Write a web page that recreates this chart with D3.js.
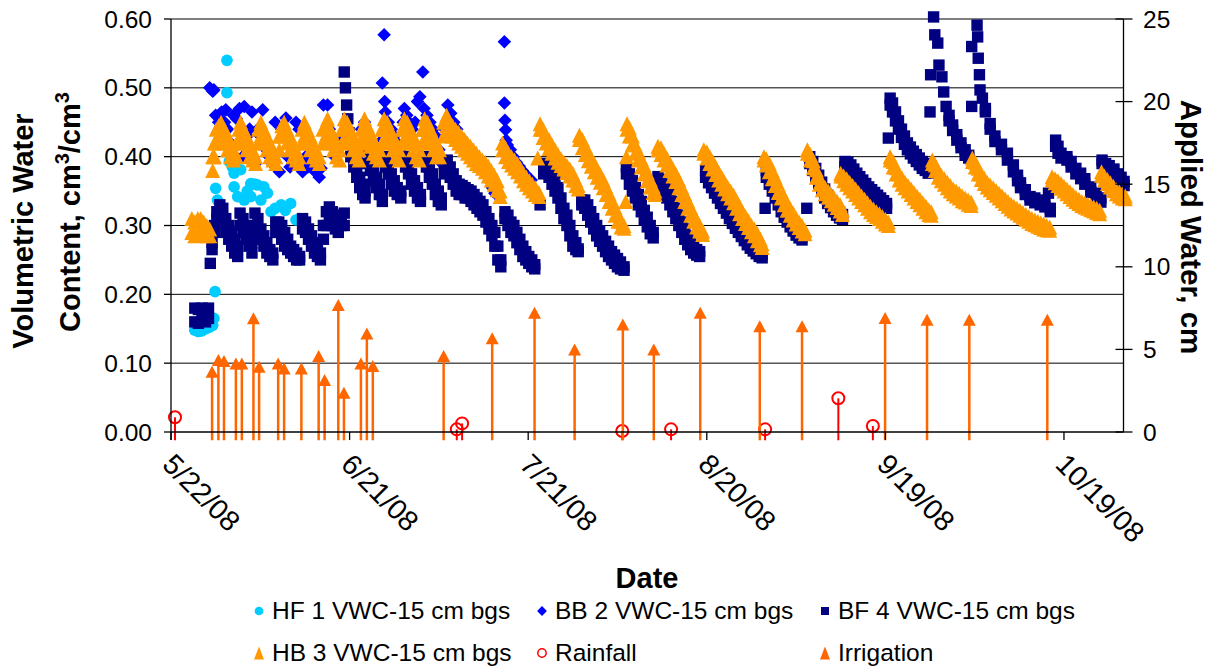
<!DOCTYPE html>
<html>
<head>
<meta charset="utf-8">
<script src="https://cdn.jsdelivr.net/npm/d3@7"></script>
<style>
  body { margin: 0; background: #fff; }
  svg { display: block; font-family: 'Liberation Sans', Arial, sans-serif; }
</style>
</head>
<body>
<svg width="1212" height="670"></svg>
<script>
// ---- data: day offset from 5/22/08 ----
const startDate = Date.UTC(2008, 4, 22);
const dateTicks = ['5/22/08', '6/21/08', '7/21/08', '8/20/08', '9/19/08', '10/19/08'];
const leftTicks = [0, 0.1, 0.2, 0.3, 0.4, 0.5, 0.6];
const rightTicks = [0, 5, 10, 15, 20, 25];

// [day, vwc] single readings
const hf1 = [[4,.148],[4.6,.146],[5.2,.147],[5.8,.15],[6.4,.152],[7,.155],[7.2,.165],[7.4,.204],[7.5,.354],[7.8,.337],
  [9.4,.54],[9.4,.493],[9.8,.393],[10.3,.385],[10.6,.376],[10.6,.356],[11.2,.342],[11.7,.381],[12.3,.337],[12.8,.35],
  [13.4,.361],[13.4,.342],[14,.36],[14.5,.359],[15.1,.337],[15.6,.356],[16.2,.347],[16.8,.32],[17.5,.325],[18.5,.33],
  [19.2,.322],[20.1,.332],[21,.308],[21.6,.31]];

const bb2 = [[6.5,.50],[7,.495],[7.2,.497],[7.5,.46],[8,.45],[8.5,.465],[9,.45],[9.2,.468],[9.5,.44],[10,.42],[10.5,.46],
  [11,.455],[11.5,.47],[12,.40],[12.3,.473],[12.8,.43],[13.2,.44],[13.6,.465],[14.2,.39],[14.6,.44],[15,.43],[15.4,.468],
  [16,.41],[16.5,.40],[17,.39],[17.5,.45],[18.2,.378],[18.6,.44],[19.3,.456],[19.6,.40],[20,.385],[20.5,.39],[21,.45],
  [21.5,.44],[22.1,.378],[22.6,.40],[23,.385],[23.5,.39],[24,.38],[24.9,.37],[25.2,.383],[25.6,.475],[26.3,.475],[26.6,.44],
  [27,.43],[27.5,.40],[28,.41],[28.5,.42],[29,.43],[29.5,.44],[30,.42],[30.5,.41],[31,.40],[31.5,.395],[32,.44],[32.5,.45],
  [33,.43],[33.5,.42],[34,.41],[34.5,.40],[35,.42],[35.5,.507],[35.8,.577],[35.9,.48],[36,.465],[36.5,.45],[37,.44],
  [37.5,.43],[38,.42],[38.5,.41],[39,.45],[39.2,.47],[39.6,.46],[40,.45],[40.5,.44],[41,.45],[41.4,.48],[41.8,.487],
  [42.3,.523],[42.5,.47],[43,.46],[43.5,.45],[44,.44],[44.5,.43],[45,.41],[45.5,.39],[46,.44],[46.5,.475],[47,.463],
  [47.5,.45],[48,.44],[48.5,.43],[49,.42],[49.5,.415],[50,.41],[50.5,.405],[51,.40],[51.5,.395],[52,.39],[52.5,.385],
  [53,.375],[53.5,.365],[54,.355],[54.4,.347],[56,.567],[56,.478],[56.1,.453],[56.2,.439],[56.3,.424],[56.5,.417],
  [57,.41],[57.5,.40],[58,.392],[58.5,.386],[59,.38],[59.5,.375],[60,.37],[60.5,.366]];

// [day, low, high] range of readings
const bf4 = [[4,.16,.18],[4.6,.158,.178],[5.2,.162,.18],[5.8,.16,.178],[6.3,.165,.18],[6.6,.245,.245],[6.9,.265,.275],
  [7.3,.29,.30],[7.7,.31,.32],[8.2,.31,.33],[8.7,.305,.325],[9.2,.29,.31],[9.7,.28,.30],[10.2,.27,.29],[10.7,.26,.28],
  [11.2,.255,.27],[11.6,.30,.318],[12.1,.29,.31],[12.6,.28,.30],[13.1,.27,.29],[13.6,.26,.275],[14.1,.30,.318],[14.6,.29,.31],
  [15.1,.28,.295],[15.6,.27,.285],[16.1,.26,.275],[16.6,.255,.265],[17.1,.25,.26],[17.6,.29,.305],[18.1,.29,.305],
  [18.6,.28,.30],[19.1,.27,.29],[19.6,.265,.28],[20.1,.26,.27],[20.6,.255,.265],[21.1,.25,.26],[21.6,.25,.255],
  [22.1,.295,.31],[22.6,.29,.305],[23.1,.28,.295],[23.6,.27,.285],[24.1,.26,.275],[24.6,.255,.265],[25.1,.25,.26],
  [25.6,.28,.30],[26.1,.30,.32],[26.6,.31,.327],[27.1,.30,.32],[27.6,.295,.31],[28.1,.29,.305],[28.6,.30,.315],[29.1,.30,.318],
  [29.1,.523,.523],[29.3,.50,.50],[29.5,.475,.475],[29.7,.455,.455],[29.9,.435,.435],[30.2,.40,.42],[30.7,.385,.40],
  [31.2,.37,.385],[31.7,.355,.37],[32.2,.345,.36],[32.6,.34,.35],[33,.39,.41],[33.5,.38,.395],[34,.365,.38],[34.5,.355,.37],
  [35,.345,.36],[35.5,.335,.345],[36,.385,.40],[36.5,.375,.39],[37,.36,.375],[37.5,.35,.365],[38,.345,.355],[38.6,.34,.35],
  [39.4,.385,.40],[39.9,.375,.39],[40.4,.36,.375],[40.9,.35,.365],[41.4,.34,.355],[41.9,.335,.345],[42.9,.385,.40],
  [43.4,.37,.385],[43.9,.36,.375],[44.4,.345,.36],[44.9,.335,.35],[45.4,.33,.34],[45.9,.375,.39],[46.4,.38,.395],
  [46.9,.37,.385],[47.4,.36,.375],[47.9,.35,.365],[48.4,.345,.36],[48.9,.345,.358],[49.4,.34,.355],[49.9,.34,.352],
  [50.4,.335,.35],[50.9,.33,.345],[51.4,.325,.34],[51.9,.32,.335],[52.4,.315,.33],[52.9,.305,.32],[53.4,.295,.31],
  [53.9,.285,.30],[54.4,.27,.29],[54.9,.25,.27],[55.4,.24,.25],[56.1,.31,.32],[56.6,.30,.315],[57.1,.29,.305],
  [57.6,.285,.30],[58.1,.275,.29],[58.6,.265,.28],[59.1,.255,.27],[59.6,.25,.262],[60.1,.245,.255],[60.6,.24,.25],
  [61.1,.237,.243],[62,.33,.33],[62.6,.375,.39],[63,.38,.39],[63.5,.37,.385],[64,.36,.375],[64.5,.35,.365],[65,.34,.355],
  [65.5,.325,.34],[66,.31,.325],[66.5,.30,.315],[67,.285,.30],[67.5,.27,.285],[68,.265,.275],[68.4,.262,.266],
  [69,.33,.337],[69.5,.325,.337],[70,.315,.33],[70.5,.305,.32],[71,.295,.31],[71.5,.285,.30],[72,.277,.292],[72.5,.27,.285],
  [73,.262,.277],[73.5,.255,.27],[74,.25,.262],[74.5,.245,.257],[75,.24,.252],[75.5,.237,.247],[76.1,.235,.24],
  [76.5,.375,.385],[77,.36,.375],[77.5,.35,.365],[78,.34,.355],[78.5,.33,.345],[79,.32,.335],[79.5,.308,.322],
  [80,.298,.312],[80.5,.288,.30],[81,.282,.29],[81.8,.362,.371],[82.3,.355,.367],[82.8,.347,.36],[83.3,.34,.353],
  [83.8,.33,.345],[84.3,.32,.335],[84.8,.31,.325],[85.3,.30,.315],[85.8,.29,.305],[86.3,.28,.295],[86.8,.272,.285],
  [87.3,.265,.277],[87.8,.26,.27],[88.3,.257,.265],[88.8,.255,.262],[89.8,.37,.38],[90.3,.362,.375],[90.8,.355,.368],
  [91.3,.347,.36],[91.8,.34,.353],[92.3,.332,.345],[92.8,.325,.338],[93.3,.318,.33],[93.8,.31,.323],[94.3,.303,.316],
  [94.8,.296,.309],[95.3,.29,.302],[95.8,.284,.295],[96.3,.278,.29],[96.8,.272,.284],[97.3,.267,.278],[97.8,.263,.272],
  [98.3,.259,.268],[98.8,.255,.264],[99.3,.253,.258],[99.8,.325,.325],[100,.37,.38],[100.5,.36,.373],[101,.35,.363],
  [101.5,.34,.353],[102,.33,.343],[102.5,.32,.333],[103,.312,.324],[103.5,.305,.316],[104,.298,.309],[104.5,.292,.302],
  [105,.286,.296],[105.5,.282,.29],[106,.279,.284],[106.8,.325,.325],[107.3,.39,.40],[107.8,.38,.393],[108.3,.37,.383],
  [108.8,.36,.373],[109.3,.35,.363],[109.8,.34,.353],[110.3,.332,.344],[110.8,.326,.337],[111.3,.32,.331],[111.8,.315,.326],
  [112.3,.311,.32],[112.8,.309,.316],[113.2,.385,.393],[113.7,.38,.392],[114.2,.375,.388],[114.7,.368,.382],
  [115.2,.362,.376],[115.7,.357,.371],[116.2,.352,.366],[116.7,.347,.361],[117.2,.343,.356],[117.7,.339,.352],
  [118.2,.335,.348],[118.7,.332,.344],[119.2,.329,.34],[119.7,.326,.336],[120.2,.325,.332],[120.5,.427,.427],
  [120.8,.475,.485],[121.2,.465,.478],[121.7,.452,.465],[122.2,.44,.452],[122.7,.428,.44],[123.2,.418,.43],[123.7,.41,.42],
  [124.2,.404,.414],[124.7,.398,.408],[125.2,.393,.403],[125.7,.388,.398],[126.2,.383,.393],[126.7,.38,.39],[127.2,.376,.386],
  [127.5,.465,.465],[127.6,.519,.519],[128.1,.603,.603],[128.3,.577,.577],[128.8,.565,.565],[129,.533,.533],[129.5,.516,.516],
  [129.8,.494,.494],[130.2,.473,.473],[130.7,.452,.46],[131.3,.438,.446],[132,.424,.432],[132.7,.413,.42],[133.4,.402,.41],
  [134,.398,.402],[134.5,.56,.56],[134.5,.473,.473],[135.4,.591,.591],[135.5,.574,.574],[135.6,.543,.543],[135.8,.519,.519],
  [135.9,.497,.497],[136.3,.485,.485],[136.8,.465,.47],[137.6,.44,.448],[138.4,.422,.43],[139.5,.41,.418],[140.5,.395,.405],
  [141.5,.378,.388],[142.2,.365,.373],[142.7,.355,.362],[143.5,.345,.352],[144.3,.337,.342],[145.1,.333,.34],[146,.33,.337],
  [146.8,.327,.335],[147.7,.32,.325],[147.4,.347,.347],[148.6,.415,.424],[149,.405,.415],[149.5,.398,.405],[150.5,.395,.40],
  [151.2,.385,.393],[152,.375,.383],[152.8,.368,.376],[153.5,.36,.368],[154.5,.348,.356],[155.4,.34,.347],[156.2,.334,.34],
  [156.4,.39,.395],[157,.385,.39],[157.6,.38,.387],[158.4,.374,.382],[159,.368,.375],[159.6,.362,.37],[160.1,.358,.364]];

const hb3 = [[3.5,.29,.31],[4,.285,.305],[4.5,.29,.31],[5,.29,.31],[5.5,.29,.305],[6,.285,.30],[6.5,.285,.295],
  [7,.38,.40],[7.3,.40,.42],[7.6,.42,.44],[8,.43,.445],[8.4,.43,.45],[9,.42,.44],[9.5,.41,.43],[10,.40,.42],[10.5,.395,.41],
  [11,.40,.42],[11.4,.42,.44],[11.7,.43,.45],[12.2,.42,.44],[12.7,.41,.43],[13.2,.40,.42],[13.7,.395,.41],[14.2,.39,.40],
  [14.7,.42,.44],[15.1,.43,.45],[15.6,.42,.44],[16.1,.41,.43],[16.6,.40,.42],[17.1,.395,.41],[17.6,.39,.40],[18.2,.41,.43],
  [18.6,.43,.445],[19,.43,.45],[19.5,.42,.44],[20,.41,.43],[20.5,.40,.42],[21,.395,.41],[21.5,.39,.40],[22,.42,.44],
  [22.4,.43,.45],[22.9,.42,.44],[23.4,.41,.43],[23.9,.40,.42],[24.4,.395,.41],[24.9,.39,.40],[25.5,.42,.44],[26,.43,.445],
  [26.3,.435,.455],[26.8,.42,.44],[27.3,.41,.43],[27.8,.40,.42],[28.3,.395,.41],[28.7,.42,.44],[29.1,.44,.455],[29.6,.43,.45],
  [30.1,.42,.44],[30.6,.41,.43],[31.1,.40,.42],[31.6,.395,.41],[32,.42,.44],[32.5,.435,.455],[33,.425,.445],[33.5,.415,.435],
  [34,.405,.425],[34.5,.40,.415],[35,.395,.41],[35.4,.42,.44],[35.8,.44,.455],[36.3,.43,.45],[36.8,.42,.44],[37.3,.41,.43],
  [37.8,.40,.42],[38.3,.395,.41],[38.8,.42,.44],[39.2,.44,.455],[39.7,.43,.45],[40.2,.42,.44],[40.7,.41,.43],[41.2,.40,.42],
  [41.7,.395,.41],[42.2,.42,.44],[42.6,.44,.455],[43.1,.43,.45],[43.6,.42,.44],[44.1,.41,.43],[44.6,.40,.42],[45.1,.40,.41],
  [45.8,.43,.45],[46.3,.445,.46],[46.8,.435,.45],[47.3,.43,.445],[47.8,.425,.44],[48.3,.42,.435],[48.8,.415,.43],
  [49.3,.41,.425],[49.8,.405,.42],[50.3,.40,.415],[50.8,.395,.41],[51.3,.39,.405],[51.8,.387,.40],[52.3,.383,.395],
  [52.8,.378,.392],[53.3,.372,.386],[53.8,.366,.38],[54.3,.36,.373],[54.8,.352,.365],[55.3,.342,.35],[55.7,.41,.42],
  [56.2,.40,.413],[56.7,.393,.405],[57.2,.388,.40],[57.7,.383,.395],[58.2,.378,.39],[58.7,.372,.383],[59.2,.365,.376],
  [59.7,.36,.37],[60.2,.355,.365],[60.7,.35,.36],[61.2,.345,.355],[61.6,.398,.398],[61.8,.342,.348],[62,.44,.448],
  [62.5,.428,.44],[63,.42,.43],[63.5,.412,.425],[64,.405,.417],[64.5,.398,.41],[65,.392,.403],[65.5,.387,.397],
  [66,.382,.392],[66.5,.377,.387],[67,.372,.382],[67.5,.366,.376],[68,.358,.366],[68.4,.353,.358],[68.6,.425,.431],
  [69.1,.413,.425],[69.6,.403,.415],[70.1,.394,.406],[70.6,.386,.397],[71.1,.378,.39],[71.6,.37,.381],[72.1,.363,.374],
  [72.6,.355,.366],[73.1,.345,.356],[73.6,.335,.346],[74.1,.325,.336],[74.6,.315,.326],[75.1,.306,.316],[75.6,.298,.306],
  [76.1,.296,.30],[76.4,.335,.335],[76.5,.40,.40],[76.6,.44,.448],[77,.43,.442],[77.5,.418,.43],[78,.405,.417],
  [78.5,.395,.407],[79,.385,.397],[79.5,.375,.387],[80,.365,.377],[80.5,.356,.367],[81,.348,.357],[81.3,.345,.35],
  [81.8,.41,.415],[82.3,.403,.413],[82.8,.395,.405],[83.3,.388,.398],[83.8,.38,.39],[84.3,.372,.382],[84.8,.364,.375],
  [85.3,.355,.366],[85.8,.345,.356],[86.3,.335,.346],[86.8,.325,.336],[87.3,.315,.326],[87.8,.306,.316],[88.3,.298,.308],
  [88.8,.292,.30],[89.3,.287,.292],[89.5,.405,.41],[90,.398,.407],[90.5,.39,.40],[91,.382,.393],[91.5,.374,.385],
  [92,.366,.377],[92.5,.36,.37],[93,.353,.363],[93.5,.346,.356],[94,.34,.35],[94.5,.333,.344],[95,.325,.336],[95.5,.317,.328],
  [96,.31,.32],[96.5,.303,.313],[97,.297,.307],[97.5,.291,.30],[98,.285,.295],[98.5,.278,.288],[99,.272,.28],[99.3,.268,.273],
  [99.6,.395,.40],[100,.388,.397],[100.5,.378,.39],[101,.368,.38],[101.5,.358,.37],[102,.348,.36],[102.5,.34,.35],
  [103,.33,.341],[103.5,.322,.332],[104,.315,.325],[104.5,.308,.318],[105,.302,.311],[105.5,.297,.305],[106,.292,.30],
  [106.5,.288,.293],[106.9,.405,.41],[107.4,.395,.403],[107.9,.384,.394],[108.4,.37,.381],[108.9,.36,.37],[109.4,.352,.361],
  [109.9,.346,.355],[110.4,.341,.35],[110.9,.336,.345],[111.4,.331,.34],[111.9,.326,.335],[112.4,.321,.33],[112.8,.316,.322],
  [112.5,.372,.376],[113,.365,.372],[113.5,.36,.368],[114,.355,.363],[114.5,.35,.358],[115,.345,.353],[115.5,.34,.348],
  [116,.335,.343],[116.5,.33,.338],[117,.325,.333],[117.5,.32,.328],[118,.316,.324],[118.5,.313,.32],[119,.31,.317],
  [119.5,.306,.313],[120,.302,.309],[120.5,.30,.305],[120.8,.395,.40],[121.3,.385,.393],[121.8,.375,.384],[122.3,.366,.375],
  [122.8,.36,.369],[123.3,.355,.363],[123.8,.35,.358],[124.3,.345,.353],[124.8,.34,.348],[125.3,.335,.343],[125.8,.33,.338],
  [126.3,.325,.333],[126.8,.32,.328],[127.3,.316,.323],[127.7,.315,.32],[127.9,.39,.395],[128.4,.38,.388],[128.9,.37,.379],
  [129.4,.365,.373],[129.9,.36,.368],[130.4,.355,.363],[130.9,.35,.358],[131.4,.346,.353],[131.9,.343,.35],[132.4,.34,.347],
  [132.9,.336,.343],[133.4,.334,.34],[133.9,.331,.337],[134.4,.329,.334],[134.6,.393,.398],[135.1,.385,.392],
  [135.6,.375,.383],[136.1,.367,.375],[136.6,.361,.369],[137.1,.356,.363],[137.6,.352,.359],[138.1,.348,.355],
  [138.6,.344,.351],[139.1,.34,.347],[139.6,.336,.343],[140.1,.332,.339],[140.6,.328,.335],[141.1,.324,.331],
  [141.6,.321,.328],[142.1,.318,.325],[142.6,.315,.322],[143.1,.312,.319],[143.6,.309,.316],[144.1,.306,.313],
  [144.6,.303,.31],[145.1,.301,.308],[145.6,.299,.306],[146.1,.297,.304],[146.6,.295,.302],[147.1,.294,.30],[147.6,.293,.298],
  [148,.366,.371],[148.5,.362,.368],[149,.358,.365],[149.5,.354,.361],[150,.35,.357],[150.5,.346,.353],[151,.342,.349],
  [151.5,.338,.345],[152,.335,.341],[152.5,.332,.338],[153,.329,.335],[153.5,.327,.333],[154,.325,.331],[154.5,.323,.329],
  [155,.321,.327],[155.5,.319,.325],[156,.317,.322],[156.3,.373,.378],[156.8,.366,.372],[157.3,.361,.367],[157.8,.356,.362],
  [158.3,.351,.357],[158.8,.346,.352],[159.3,.343,.349],[159.8,.34,.346],[160.3,.339,.343]];

// applied water, cm (right axis)
const rainfall = [[0.67,0.89],[48,0.16],[48.9,0.52],[75.8,0.06],[84,0.16],[99.8,0.16],[112.1,2.04],[117.9,0.36]];
const irrigation = [[6.9,3.65],[7.96,4.36],[8.9,4.3],[10.9,4.15],[11.9,4.15],[13.85,6.88],[14.8,3.95],[18,4.15],
  [19,3.85],[21.9,3.85],[24.8,4.6],[25.8,3.15],[28.1,7.69],[29.05,2.38],[31.9,4.15],[32.9,5.97],[33.9,4.0],[45.8,4.6],
  [53.95,5.67],[61.07,7.22],[67.8,5.0],[75.9,6.5],[81.1,5.0],[88.9,7.22],[98.9,6.4],[106,6.4],[119.95,6.9],[127,6.8],
  [134.1,6.8],[147.2,6.8]];

// ---- chart ----
const svg = d3.select('svg');
const plotLeft = 171, plotRight = 1123.5, plotTop = 19, plotBottom = 432;
const dayToDate = d => new Date(startDate + d * 864e5);
const parseTick = d3.utcParse('%m/%d/%y');

const x = d3.scaleUtc().domain([dayToDate(0), dayToDate(160)]).range([plotLeft, plotRight]);
const yL = d3.scaleLinear().domain([0, 0.6]).range([plotBottom, plotTop]);
const yR = d3.scaleLinear().domain([0, 25]).range([plotBottom, plotTop]);

// gridlines
svg.append('g').selectAll('line').data(leftTicks.slice(1)).join('line')
    .attr('x1', plotLeft).attr('x2', plotRight)
    .attr('y1', d => yL(d)).attr('y2', d => yL(d))
    .attr('stroke', '#000').attr('stroke-width', 1);

const tri = (w, h) => `M0,${-h / 2}L${w / 2},${h / 2}L${-w / 2},${h / 2}Z`;
// low and high reading of each range
const ends = data => data.flatMap(d => d[1] === d[2] ? [[d[0], d[1]]] : [[d[0], d[1]], [d[0], d[2]]]);

function scatter(data, path, color, rotate) {
  svg.append('g').selectAll('path').data(data).join('path')
      .attr('d', path)
      .attr('transform', d => 'translate(' + x(dayToDate(d[0])) + ',' + yL(d[1]) + ')' + (rotate ? ' rotate(45)' : ''))
      .attr('fill', color);
}

scatter(hf1, d3.symbol(d3.symbolCircle, 107)(), '#00CCFF');
scatter(bb2, d3.symbol(d3.symbolSquare, 92)(), '#0000FF', true);
scatter(ends(bf4), d3.symbol(d3.symbolSquare, 130)(), '#000080');
scatter(ends(hb3), tri(15, 15), '#FF9900');

// rainfall: open circles with drop line
const rain = svg.append('g');
rain.selectAll('line').data(rainfall).join('line')
    .attr('x1', d => x(dayToDate(d[0]))).attr('x2', d => x(dayToDate(d[0])))
    .attr('y1', d => yR(d[1])).attr('y2', yR(-0.5))
    .attr('stroke', '#FF0000').attr('stroke-width', 2);
rain.selectAll('circle').data(rainfall).join('circle')
    .attr('cx', d => x(dayToDate(d[0]))).attr('cy', d => yR(d[1])).attr('r', 6)
    .attr('fill', 'none').attr('stroke', '#FF0000').attr('stroke-width', 2);

// irrigation: arrows
const irr = svg.append('g');
irr.selectAll('line').data(irrigation).join('line')
    .attr('x1', d => x(dayToDate(d[0]))).attr('x2', d => x(dayToDate(d[0])))
    .attr('y1', d => yR(d[1])).attr('y2', yR(-0.5))
    .attr('stroke', '#FF6600').attr('stroke-width', 2.5);
irr.selectAll('path').data(irrigation).join('path')
    .attr('d', tri(13, 12))
    .attr('transform', d => 'translate(' + x(dayToDate(d[0])) + ',' + yR(d[1]) + ')')
    .attr('fill', '#FF6600');

// axes
const axes = svg.append('g').attr('stroke', '#000').attr('stroke-width', 1.3);
axes.append('line').attr('x1', plotLeft).attr('x2', plotLeft).attr('y1', plotTop).attr('y2', plotBottom + 8);
axes.append('line').attr('x1', plotRight).attr('x2', plotRight).attr('y1', plotTop).attr('y2', plotBottom);
axes.append('line').attr('x1', plotLeft).attr('x2', plotRight).attr('y1', plotBottom).attr('y2', plotBottom);
axes.selectAll('.lt').data(leftTicks).join('line').attr('class', 'lt')
    .attr('x1', plotLeft - 7).attr('x2', plotLeft).attr('y1', d => yL(d)).attr('y2', d => yL(d));
axes.selectAll('.rt').data(rightTicks).join('line').attr('class', 'rt')
    .attr('x1', plotRight - 8).attr('x2', plotRight + 9).attr('y1', d => yR(d)).attr('y2', d => yR(d));
axes.selectAll('.xt').data(dateTicks).join('line').attr('class', 'xt')
    .attr('x1', d => x(parseTick(d))).attr('x2', d => x(parseTick(d)))
    .attr('y1', plotBottom).attr('y2', plotBottom + 8);

// tick labels
svg.append('g').selectAll('text').data(leftTicks).join('text')
    .attr('x', 152).attr('y', d => yL(d) + 8.5)
    .attr('text-anchor', 'end').attr('font-size', 24.5)
    .text(d => d3.format('.2f')(d));
svg.append('g').selectAll('text').data(rightTicks).join('text')
    .attr('x', 1143).attr('y', d => yR(d) + 8.5)
    .attr('font-size', 24.5)
    .text(d => d);
svg.append('g').selectAll('text').data(dateTicks).join('text')
    .attr('transform', d => 'translate(' + (x(parseTick(d)) - 10) + ',' + 466 + ') rotate(45)')
    .attr('font-size', 28.5)
    .text(d => d);

// axis titles
const ytitle = svg.append('g').attr('font-size', 29).attr('font-weight', 'bold').attr('text-anchor', 'middle');
ytitle.append('text').attr('transform', 'translate(33,231) rotate(-90)').text('Volumetric Water');
const t2 = ytitle.append('text').attr('transform', 'translate(80,212) rotate(-90)');
t2.append('tspan').text('Content, cm');
t2.append('tspan').attr('font-size', 20).attr('dy', -11).text('3');
t2.append('tspan').attr('dy', 11).text('/cm');
t2.append('tspan').attr('font-size', 20).attr('dy', -11).text('3');
svg.append('text').attr('transform', 'translate(1181,227) rotate(90)')
    .attr('font-size', 29.5).attr('font-weight', 'bold').attr('text-anchor', 'middle')
    .text('Applied Water, cm');
svg.append('text').attr('x', 647).attr('y', 588)
    .attr('font-size', 29).attr('font-weight', 'bold').attr('text-anchor', 'middle')
    .text('Date');

// legend
const legendItems = [
  {name: 'HF 1 VWC-15 cm bgs', col: 0, row: 0, mark: d3.symbol(d3.symbolCircle, 60)(), fill: '#00CCFF'},
  {name: 'BB 2 VWC-15 cm bgs', col: 1, row: 0, mark: d3.symbol(d3.symbolSquare, 48)(), fill: '#0000FF', rot: true},
  {name: 'BF 4 VWC-15 cm bgs', col: 2, row: 0, mark: d3.symbol(d3.symbolSquare, 64)(), fill: '#000080'},
  {name: 'HB 3 VWC-15 cm bgs', col: 0, row: 1, mark: tri(10, 13), fill: '#FF9900'},
  {name: 'Rainfall', col: 1, row: 1, mark: d3.symbol(d3.symbolCircle, 55)(), fill: 'none', stroke: '#FF0000'},
  {name: 'Irrigation', col: 2, row: 1, mark: tri(10, 13), fill: '#FF6600'}
];
const colX = [272, 555, 838];
const rowY = [610, 652];
const lg = svg.append('g').selectAll('g').data(legendItems).join('g')
    .attr('transform', d => 'translate(' + colX[d.col] + ',' + rowY[d.row] + ')');
lg.append('path')
    .attr('d', d => d.mark)
    .attr('transform', d => 'translate(-13,1)' + (d.rot ? ' rotate(45)' : ''))
    .attr('fill', d => d.fill)
    .attr('stroke', d => d.stroke || 'none').attr('stroke-width', 1.5);
lg.append('text').attr('y', 8.5).attr('font-size', 24.5).text(d => d.name);
</script>
</body>
</html>
